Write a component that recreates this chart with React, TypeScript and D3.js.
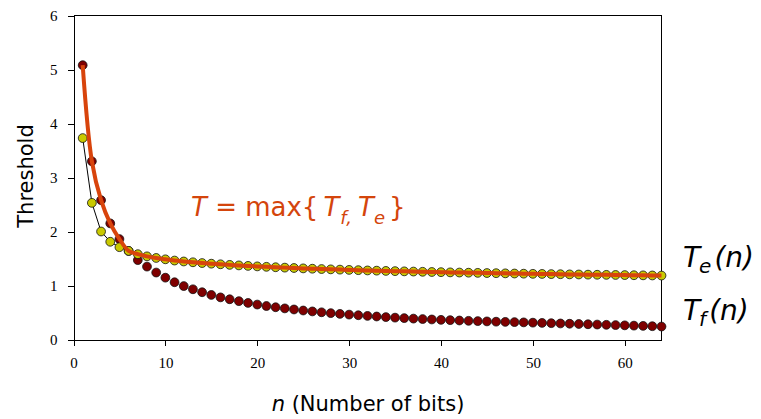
import { useEffect, useRef } from "react";
import * as d3 from "d3";

// number of bits n (x categories)
const bits = [
  1, 2, 3, 4, 5, 6, 7, 8, 9, 10, 11, 12, 13, 14, 15, 16,
  17, 18, 19, 20, 21, 22, 23, 24, 25, 26, 27, 28, 29, 30, 31, 32,
  33, 34, 35, 36, 37, 38, 39, 40, 41, 42, 43, 44, 45, 46, 47, 48,
  49, 50, 51, 52, 53, 54, 55, 56, 57, 58, 59, 60, 61, 62, 63, 64,
];

// T_f(n), dark red dots
const tf = [
  5.08, 3.3, 2.58, 2.15, 1.86, 1.64, 1.47, 1.35, 1.24, 1.145, 1.06, 0.99, 0.93, 0.875, 0.825, 0.78,
  0.745, 0.71, 0.677, 0.647, 0.62, 0.597, 0.576, 0.556, 0.537, 0.52, 0.504, 0.488, 0.474, 0.461, 0.449, 0.437,
  0.426, 0.415, 0.405, 0.396, 0.387, 0.379, 0.371, 0.364, 0.358, 0.352, 0.346, 0.341, 0.335, 0.33, 0.326, 0.322,
  0.317, 0.312, 0.307, 0.302, 0.297, 0.292, 0.287, 0.282, 0.277, 0.272, 0.267, 0.262, 0.257, 0.252, 0.246, 0.24,
];

// T_e(n), yellow dots joined by a thin line
const te = [
  3.73, 2.53, 2.0, 1.81, 1.71, 1.64, 1.58, 1.54, 1.51, 1.485, 1.462, 1.445, 1.43, 1.416, 1.404, 1.393,
  1.382, 1.372, 1.363, 1.354, 1.346, 1.338, 1.331, 1.324, 1.317, 1.311, 1.305, 1.299, 1.294, 1.289, 1.284, 1.279,
  1.275, 1.27, 1.266, 1.262, 1.258, 1.254, 1.25, 1.247, 1.243, 1.24, 1.237, 1.234, 1.231, 1.228, 1.225, 1.222,
  1.219, 1.216, 1.214, 1.211, 1.209, 1.206, 1.204, 1.201, 1.199, 1.197, 1.195, 1.193, 1.19, 1.188, 1.186, 1.184,
];

const xTicks = [0, 10, 20, 30, 40, 50, 60];
const yTicks = [0, 1, 2, 3, 4, 5, 6];

const width = 761;
const height = 419;

function App() {
  const ref = useRef<SVGSVGElement>(null);

  useEffect(() => {
    const svg = d3.select(ref.current);
    svg.selectAll("*").remove();

    const x = d3.scaleLinear().domain([0, 64]).range([73.5, 661.5]);
    const y = d3.scaleLinear().domain([0, 6]).range([339.5, 15.5]);

    const tfData = bits.map((n, i) => ({ n, v: tf[i] }));
    const teData = bits.map((n, i) => ({ n, v: te[i] }));
    const maxData = bits.map((n, i) => ({ n, v: Math.max(tf[i], te[i]) }));

    // axes
    const xAxis = svg.append("g")
      .attr("transform", `translate(0,${y(0)})`)
      .call(d3.axisBottom(x).tickValues(xTicks).tickSize(6).tickSizeOuter(0).tickPadding(12).tickFormat(d3.format("d")));
    const yAxis = svg.append("g")
      .attr("transform", `translate(${x(0)},0)`)
      .call(d3.axisLeft(y).tickValues(yTicks).tickSize(6).tickSizeOuter(0).tickPadding(10).tickFormat(d3.format("d")));

    [xAxis, yAxis].forEach(g => {
      g.selectAll("path, line").attr("stroke", "#000").attr("shape-rendering", "crispEdges");
      g.selectAll("text")
        .attr("fill", "#000")
        .style("font-family", "'Liberation Serif', 'DejaVu Serif', serif")
        .style("font-size", "15px");
    });

    // top and right frame
    svg.append("path")
      .attr("d", `M${x(0)},${y(6)}H${x(64)}V${y(0)}`)
      .attr("fill", "none")
      .attr("stroke", "#000")
      .attr("shape-rendering", "crispEdges");

    // T_e thin line
    svg.append("path")
      .datum(teData)
      .attr("fill", "none")
      .attr("stroke", "#000")
      .attr("stroke-width", 1)
      .attr("d", d3.line<{ n: number; v: number }>().x(d => x(d.n)).y(d => y(d.v)));

    svg.append("g")
      .selectAll("circle")
      .data(tfData)
      .join("circle")
      .attr("cx", d => x(d.n))
      .attr("cy", d => y(d.v))
      .attr("r", 4.4)
      .attr("fill", "#7f0000")
      .attr("stroke", "#111")
      .attr("stroke-width", 0.8);

    svg.append("g")
      .selectAll("circle")
      .data(teData)
      .join("circle")
      .attr("cx", d => x(d.n))
      .attr("cy", d => y(d.v))
      .attr("r", 4.4)
      .attr("fill", "#c9c900")
      .attr("stroke", "#111")
      .attr("stroke-width", 0.8);

    // T = max{T_f, T_e}
    svg.append("path")
      .datum(maxData)
      .attr("fill", "none")
      .attr("stroke", "#d8440c")
      .attr("stroke-width", 4)
      .attr("stroke-linejoin", "round")
      .attr("d", d3.line<{ n: number; v: number }>().x(d => x(d.n)).y(d => y(d.v)).curve(d3.curveCatmullRom));

    // axis titles
    svg.append("text")
      .attr("transform", "translate(33,176) rotate(-90)")
      .attr("text-anchor", "middle")
      .style("font-family", "'DejaVu Sans', sans-serif")
      .style("font-size", "21px")
      .text("Threshold");

    const xl = svg.append("text")
      .attr("x", 368)
      .attr("y", 411)
      .attr("text-anchor", "middle")
      .style("font-family", "'DejaVu Sans', sans-serif")
      .style("font-size", "21px");
    xl.append("tspan").attr("font-style", "italic").text("n");
    xl.append("tspan").text(" (Number of bits)");

    // annotation
    const ann = svg.append("text")
      .attr("x", 191)
      .attr("y", 216)
      .attr("fill", "#d4450c")
      .style("font-family", "'DejaVu Sans', sans-serif")
      .style("font-size", "26px");
    ann.append("tspan").attr("font-style", "italic").text("T");
    ann.append("tspan").text(" = max{");
    ann.append("tspan").attr("dx", 5).attr("font-style", "italic").text("T");
    ann.append("tspan").attr("dy", 8).attr("dx", 1).style("font-size", "18px").attr("font-style", "italic").text("f,");
    ann.append("tspan").attr("dy", -8).attr("dx", 6).attr("font-style", "italic").text("T");
    ann.append("tspan").attr("dy", 8).attr("dx", 0).style("font-size", "18px").attr("font-style", "italic").text("e");
    ann.append("tspan").attr("dy", -8).attr("dx", 4).text("}");

    // series labels
    const seriesLabels = [
      { sub: "e", y: 267 },
      { sub: "f", y: 320 },
    ];
    seriesLabels.forEach(s => {
      const t = svg.append("text")
        .attr("x", 683)
        .attr("y", s.y)
        .attr("fill", "#000")
        .style("font-family", "'DejaVu Sans', sans-serif")
        .style("font-style", "italic")
        .style("font-size", "28px");
      t.append("tspan").text("T");
      t.append("tspan").attr("dy", 6).attr("dx", -1).style("font-size", "20px").text(s.sub);
      t.append("tspan").attr("dy", -6).attr("dx", 3).text("(n)");
    });

    return () => {
      svg.selectAll("*").remove();
    };
  }, []);

  return (
    <svg
      ref={ref}
      width={width}
      height={height}
      style={{ position: "absolute", left: 0, top: 0, background: "#fff", display: "block" }}
    />
  );
}

export default App;
